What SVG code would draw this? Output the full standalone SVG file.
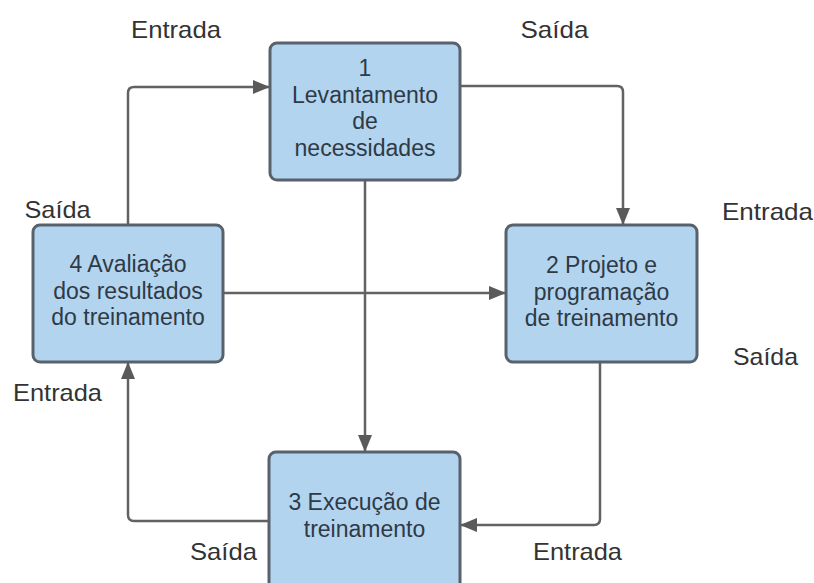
<svg xmlns="http://www.w3.org/2000/svg" width="814" height="583" viewBox="0 0 814 583">
<style>
.node{fill:#b3d4ef;stroke:#58626c;stroke-width:3}
.nt{font-family:"Liberation Sans",Arial,sans-serif;font-size:23px;fill:#2e3a46;text-anchor:middle}
.lbl{font-family:"Liberation Sans",Arial,sans-serif;font-size:24px;fill:#333333;text-anchor:middle}
.conn{fill:none;stroke:#626262;stroke-width:2.5;stroke-linejoin:round}
</style>
<defs>
<marker id="arr" viewBox="0 0 17 14" refX="16" refY="7" markerWidth="17" markerHeight="14" markerUnits="userSpaceOnUse" orient="auto">
<path d="M0,0 L17,7 L0,14 Z" fill="#5a5a5a"/>
</marker>
</defs>
<rect width="814" height="583" fill="#ffffff"/>
<g id="connectors">
<path class="conn" d="M128,225 V93 Q128,87 134,87 H269" marker-end="url(#arr)"/>
<path class="conn" d="M460,86 H617 Q623,86 623,92 V224" marker-end="url(#arr)"/>
<path class="conn" d="M365,180 V451" marker-end="url(#arr)"/>
<path class="conn" d="M223,293 H505" marker-end="url(#arr)"/>
<path class="conn" d="M600,362 V519 Q600,525 594,525 H461" marker-end="url(#arr)"/>
<path class="conn" d="M270,521 H134 Q128,521 128,515 V363" marker-end="url(#arr)"/>
</g>
<g id="node1">
<rect class="node" x="270" y="43" width="190" height="137" rx="7"/>
<text class="nt" x="365" y="76">1</text>
<text class="nt" x="365" y="102.5" textLength="146" lengthAdjust="spacingAndGlyphs">Levantamento</text>
<text class="nt" x="365" y="129">de</text>
<text class="nt" x="365" y="155.5" textLength="141" lengthAdjust="spacingAndGlyphs">necessidades</text>
</g>
<g id="node2">
<rect class="node" x="506" y="225" width="191" height="137" rx="7"/>
<text class="nt" x="601.5" y="273">2 Projeto e</text>
<text class="nt" x="601.5" y="299.5">programação</text>
<text class="nt" x="601.5" y="326">de treinamento</text>
</g>
<g id="node3">
<rect class="node" x="269" y="452" width="191" height="140" rx="7"/>
<text class="nt" x="364.5" y="510">3 Execução de</text>
<text class="nt" x="364.5" y="537">treinamento</text>
</g>
<g id="node4">
<rect class="node" x="33" y="225" width="190" height="137" rx="7"/>
<text class="nt" x="128" y="272">4 Avaliação</text>
<text class="nt" x="128" y="298.5">dos resultados</text>
<text class="nt" x="128" y="324.5">do treinamento</text>
</g>
<g id="labels">
<text class="lbl" x="176" y="38" textLength="90" lengthAdjust="spacingAndGlyphs">Entrada</text>
<text class="lbl" x="554.5" y="38" textLength="68" lengthAdjust="spacingAndGlyphs">Saída</text>
<text class="lbl" x="57.5" y="218" textLength="66" lengthAdjust="spacingAndGlyphs">Saída</text>
<text class="lbl" x="767.5" y="220" textLength="91" lengthAdjust="spacingAndGlyphs">Entrada</text>
<text class="lbl" x="765.5" y="365" textLength="65" lengthAdjust="spacingAndGlyphs">Saída</text>
<text class="lbl" x="57.5" y="401" textLength="89" lengthAdjust="spacingAndGlyphs">Entrada</text>
<text class="lbl" x="223.5" y="560" textLength="67" lengthAdjust="spacingAndGlyphs">Saída</text>
<text class="lbl" x="577.5" y="560" textLength="89" lengthAdjust="spacingAndGlyphs">Entrada</text>
</g>
</svg>
